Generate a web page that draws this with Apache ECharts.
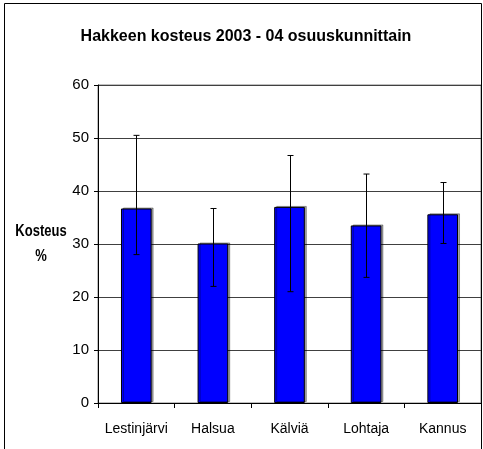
<!DOCTYPE html>
<html>
<head>
<meta charset="utf-8">
<script src="https://cdn.jsdelivr.net/npm/echarts@6/dist/echarts.min.js"></script>
<style>
  html, body { margin: 0; padding: 0; background: #fff; }
  #chart { width: 483px; height: 449px; }
</style>
</head>
<body>
<div id="chart"></div>
<script>
// kategoriat ja arvot
const categories = ["Lestinjärvi", "Halsua", "Kälviä", "Lohtaja", "Kannus"];
const moisture = [36.7, 30.1, 37.0, 33.5, 35.6];
const errLow = [28.0, 22.0, 21.0, 23.7, 30.1];
const errHigh = [50.5, 36.7, 46.7, 43.2, 41.6];
const yTicks = [0, 10, 20, 30, 40, 50, 60];

const font = "'Liberation Sans', Arial, sans-serif";

const chart = echarts.init(document.getElementById("chart"));

const option = {
  animation: false,
  backgroundColor: "#fff",
  title: {
    text: "Hakkeen kosteus 2003 - 04 osuuskunnittain",
    left: 241,
    textAlign: "center",
    top: 24,
    textStyle: { fontFamily: font, fontSize: 16, fontWeight: "bold", color: "#000" },
  },
  grid: {
    left: 98,
    right: 2,
    top: 85,
    bottom: 46,
    show: true,
    borderColor: "#808080",
    borderWidth: 1,
  },
  xAxis: {
    type: "category",
    data: categories,
    axisLine: { lineStyle: { color: "#000" } },
    axisTick: { show: true, length: 5, lineStyle: { color: "#000" } },
    axisLabel: { fontFamily: font, fontSize: 14, color: "#000", margin: 19, interval: 0 },
  },
  yAxis: {
    type: "value",
    min: yTicks[0],
    max: yTicks[yTicks.length - 1],
    interval: 10,
    axisLine: { show: true, lineStyle: { color: "#000" } },
    axisTick: { show: true, length: 4, lineStyle: { color: "#000" } },
    axisLabel: { fontFamily: font, fontSize: 15, color: "#000", margin: 9 },
    splitLine: { lineStyle: { color: "#404040", width: 1 } },
  },
  graphic: [
    {
      type: "rect",
      shape: { x: 4.5, y: 3.5, width: 477, height: 460 },
      style: { fill: null, stroke: "#000", lineWidth: 1 },
      z: 100,
    },
    {
      type: "text",
      x: 41,
      y: 232,
      style: {
        text: "Kosteus",
        font: "bold 13px " + font,
        fill: "#000",
        align: "center",
        verticalAlign: "middle",
      },
      scaleY: 1.2,
    },
    {
      type: "text",
      x: 41,
      y: 257,
      style: {
        text: "%",
        font: "bold 13px " + font,
        fill: "#000",
        align: "center",
        verticalAlign: "middle",
      },
      scaleY: 1.2,
    },
  ],
  series: [
    {
      name: "Kosteus",
      type: "bar",
      barWidth: "40%",
      data: moisture,
      itemStyle: {
        color: "#0000FF",
        borderColor: "#000",
        borderWidth: 1,
        shadowColor: "rgba(0,0,0,0.35)",
        shadowOffsetX: 2,
        shadowOffsetY: -1,
      },
      z: 2,
    },
    {
      // virhepalkit
      type: "custom",
      data: categories.map((c, i) => [i, errLow[i], errHigh[i]]),
      renderItem: (params, api) => {
        const lo = api.coord([api.value(0), api.value(1)]);
        const hi = api.coord([api.value(0), api.value(2)]);
        const x = Math.round(lo[0]) + 0.5;
        const cap = 3;
        const st = { stroke: "#000", lineWidth: 1 };
        return {
          type: "group",
          children: [
            { type: "line", shape: { x1: x, y1: hi[1], x2: x, y2: lo[1] }, style: st },
            { type: "line", shape: { x1: x - cap, y1: hi[1], x2: x + cap, y2: hi[1] }, style: st },
            { type: "line", shape: { x1: x - cap, y1: lo[1], x2: x + cap, y2: lo[1] }, style: st },
          ],
        };
      },
      z: 5,
    },
  ],
};

chart.setOption(option);
</script>
</body>
</html>
